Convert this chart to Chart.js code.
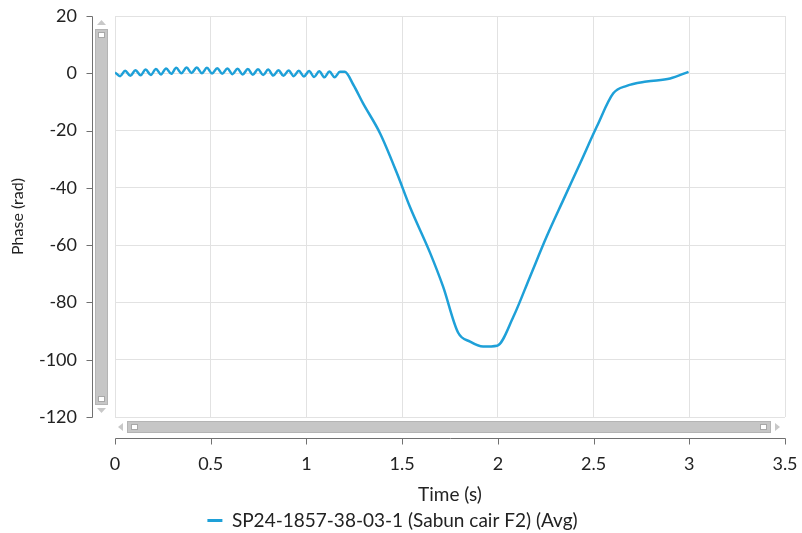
<!DOCTYPE html>
<html><head><meta charset="utf-8">
<script src="https://cdn.jsdelivr.net/npm/chart.js@4.4.1/dist/chart.umd.min.js"></script>
<style>html,body{margin:0;padding:0;background:#fff;overflow:hidden;}</style>
</head><body>
<canvas id="c" width="802" height="533" style="width:802px;height:533px;display:block"></canvas>
<script>
// ---- data ----
const seriesLabel = 'SP24-1857-38-03-1 (Sabun cair F2) (Avg)';
const timeValues = [
  0, 0.027, 0.053, 0.08, 0.107, 0.134, 0.16, 0.187, 0.214, 0.24,
  0.267, 0.294, 0.32, 0.347, 0.374, 0.4, 0.427, 0.454, 0.48, 0.507,
  0.534, 0.56, 0.587, 0.614, 0.64, 0.667, 0.694, 0.72, 0.747, 0.774,
  0.8, 0.827, 0.854, 0.88, 0.907, 0.934, 0.96, 0.987, 1.014, 1.04,
  1.067, 1.094, 1.12, 1.147, 1.175, 1.2, 1.245, 1.296, 1.385, 1.473,
  1.541, 1.646, 1.714, 1.792, 1.855, 1.923, 1.996, 2.081, 2.168, 2.255,
  2.342, 2.43, 2.517, 2.603, 2.673, 2.777, 2.9, 2.996
];
const phaseValues = [
  0.3, -1.0, 0.9, -0.9, 1.1, -0.7, 1.3, -0.6, 1.5, -0.4,
  1.7, -0.2, 1.9, 0.0, 2.0, 0.1, 2.0, 0.0, 1.9, -0.1,
  1.8, -0.2, 1.7, -0.3, 1.6, -0.4, 1.5, -0.5, 1.4, -0.6,
  1.3, -0.8, 1.1, -0.9, 1.0, -1.0, 0.9, -1.1, 0.8, -1.3,
  0.7, -1.4, 0.6, -1.4, 0.5, 0.5, -4.0, -10.5, -21.0, -34.9,
  -46.7, -62.7, -74.5, -90.5, -93.7, -95.4, -95.1, -85.0, -71.0, -57.0,
  -44.2, -31.4, -18.6, -7.0, -4.4, -2.9, -1.8, 0.5
];
const xTickValues = [0, 0.5, 1, 1.5, 2, 2.5, 3, 3.5];
const yTickValues = [20, 0, -20, -40, -60, -80, -100, -120];
const xTitle = 'Time (s)';
const yTitle = 'Phase (rad)';

// ---- style ----
const FONT = 'Lato, "Noto Sans", sans-serif';
const lineColor = '#1ea0d8';
const textColor = '#222222';
const gridColor = '#e2e2e2';
const axisColor = '#707070';

const points = timeValues.map((t, i) => ({x: t, y: phaseValues[i]}));

const decor = {
  id: 'decor',
  afterDraw(chart) {
    const {ctx, scales: {x, y}} = chart;
    ctx.save();
    ctx.strokeStyle = axisColor; ctx.lineWidth = 1;
    // y axis line + ticks
    const ax = 92.5;
    const yTop = y.getPixelForValue(yTickValues[0]);
    const yBot = y.getPixelForValue(yTickValues[yTickValues.length - 1]);
    ctx.beginPath();
    ctx.moveTo(ax, Math.round(yTop) + 0.5); ctx.lineTo(ax, Math.round(yBot) + 0.5);
    yTickValues.forEach(v => { const py = Math.round(y.getPixelForValue(v)) + 0.5; ctx.moveTo(ax - 6, py); ctx.lineTo(ax, py); });
    ctx.stroke();
    // x axis line + ticks
    const ay = 438.5;
    const xL = x.getPixelForValue(xTickValues[0]);
    const xR = x.getPixelForValue(xTickValues[xTickValues.length - 1]);
    ctx.beginPath();
    ctx.moveTo(Math.round(xL) + 0.5, ay); ctx.lineTo(Math.round(xR) + 0.5, ay);
    xTickValues.forEach(v => { const px = Math.round(x.getPixelForValue(v)) + 0.5; ctx.moveTo(px, ay); ctx.lineTo(px, ay + 6); });
    ctx.stroke();

    // vertical scrollbar
    const vx = 95, vw = 13;
    ctx.fillStyle = '#c6c6c6'; ctx.strokeStyle = '#b4b4b4';
    ctx.fillRect(vx, 29, vw, 376); ctx.strokeRect(vx + 0.5, 29.5, vw - 1, 375);
    ctx.fillStyle = '#ffffff'; ctx.strokeStyle = '#a8a8a8';
    ctx.fillRect(vx + 3, 32, 7, 6); ctx.strokeRect(vx + 3.5, 32.5, 6, 5);
    ctx.fillRect(vx + 3, 396, 7, 6); ctx.strokeRect(vx + 3.5, 396.5, 6, 5);
    ctx.fillStyle = '#c8c8c8';
    ctx.beginPath(); ctx.moveTo(vx + 2, 25); ctx.lineTo(vx + vw - 2, 25); ctx.lineTo(vx + vw / 2, 20); ctx.closePath(); ctx.fill();
    ctx.beginPath(); ctx.moveTo(vx + 2, 408); ctx.lineTo(vx + vw - 2, 408); ctx.lineTo(vx + vw / 2, 413); ctx.closePath(); ctx.fill();

    // horizontal scrollbar
    const hy = 421, hh = 12;
    ctx.fillStyle = '#c6c6c6'; ctx.strokeStyle = '#b4b4b4';
    ctx.fillRect(127, hy, 644, hh); ctx.strokeRect(127.5, hy + 0.5, 643, hh - 1);
    ctx.fillStyle = '#ffffff'; ctx.strokeStyle = '#a8a8a8';
    ctx.fillRect(131, hy + 3, 7, 6); ctx.strokeRect(131.5, hy + 3.5, 6, 5);
    ctx.fillRect(760, hy + 3, 7, 6); ctx.strokeRect(760.5, hy + 3.5, 6, 5);
    ctx.fillStyle = '#c8c8c8';
    ctx.beginPath(); ctx.moveTo(123, hy + 2); ctx.lineTo(123, hy + hh - 2); ctx.lineTo(118, hy + hh / 2); ctx.closePath(); ctx.fill();
    ctx.beginPath(); ctx.moveTo(775, hy + 2); ctx.lineTo(775, hy + hh - 2); ctx.lineTo(780, hy + hh / 2); ctx.closePath(); ctx.fill();
    ctx.restore();
  }
};

new Chart(document.getElementById('c'), {
  type: 'line',
  data: {
    datasets: [{
      label: seriesLabel,
      data: points,
      borderColor: lineColor,
      backgroundColor: lineColor,
      borderWidth: 2.5,
      pointRadius: 0,
      cubicInterpolationMode: 'monotone',
      fill: false
    }]
  },
  options: {
    responsive: false,
    devicePixelRatio: 1,
    animation: false,
    layout: {padding: {left: 0, right: 17, top: 16, bottom: -7}},
    plugins: {
      tooltip: {enabled: false},
      legend: {
        position: 'bottom',
        labels: {
          color: textColor,
          font: {family: FONT, size: 19},
          boxWidth: 15, boxHeight: 3, padding: 0,
          generateLabels(chart) {
            const items = Chart.defaults.plugins.legend.labels.generateLabels(chart);
            items.forEach(it => { it.lineWidth = 0; it.fillStyle = lineColor; it.strokeStyle = lineColor; });
            return items;
          }
        }
      }
    },
    scales: {
      x: {
        type: 'linear', min: 0, max: 3.5,
        afterBuildTicks(s) { s.ticks = xTickValues.map(v => ({value: v})); },
        afterFit(s) { s.height = 94; },
        grid: {color: gridColor, drawTicks: true, tickLength: 36, tickColor: 'rgba(0,0,0,0)'},
        border: {display: false},
        ticks: {color: textColor, font: {family: FONT, size: 18}, padding: 0, maxRotation: 0, autoSkip: false,
                callback: v => String(v)},
        title: {display: true, text: xTitle, color: textColor, font: {family: FONT, size: 19}, padding: {top: 0, bottom: 5}}
      },
      y: {
        type: 'linear', min: -120, max: 20,
        afterBuildTicks(s) { s.ticks = yTickValues.map(v => ({value: v})); },
        afterFit(s) { s.width = 115; },
        grid: {color: gridColor, drawTicks: true, tickLength: 38, tickColor: 'rgba(0,0,0,0)'},
        border: {display: false},
        ticks: {color: textColor, font: {family: FONT, size: 18}, padding: 0, autoSkip: false,
                callback: v => String(v)},
        title: {display: true, text: yTitle, color: textColor, font: {family: FONT, size: 16}, padding: {top: 8, bottom: 0}}
      }
    }
  },
  plugins: [decor]
});
</script>
</body></html>
